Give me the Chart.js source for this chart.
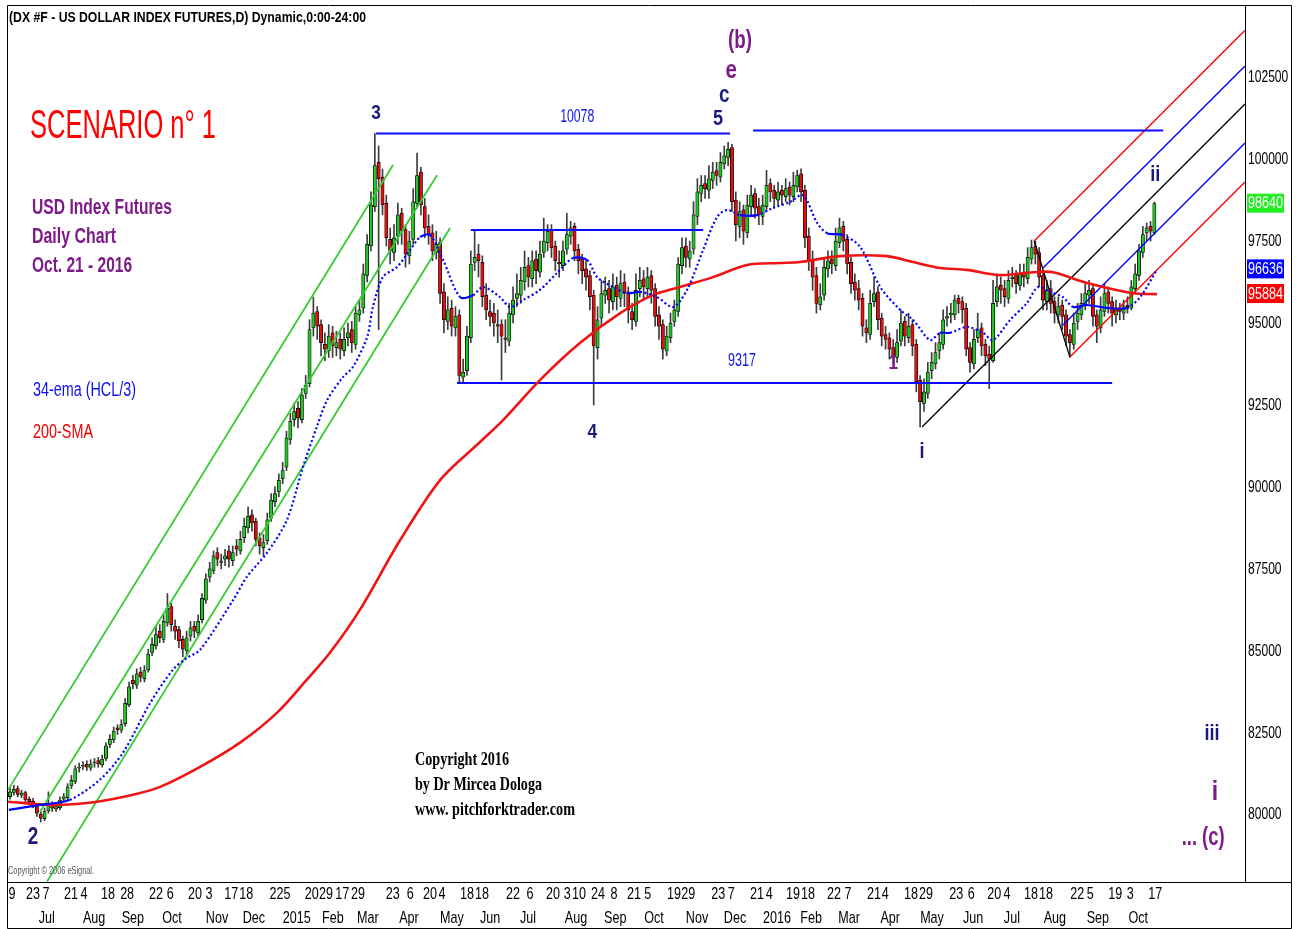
<!DOCTYPE html>
<html>
<head>
<meta charset="utf-8">
<title>DX #F - US Dollar Index Futures, daily</title>
<script src="https://cdn.jsdelivr.net/npm/chart.js@4.4.0/dist/chart.umd.min.js"></script>
<style>
  html, body { margin: 0; padding: 0; background: #fff; }
  #wrap { width: 1300px; height: 929px; }
</style>
</head>
<body>
<div id="wrap"><canvas id="chart_dxDaily" width="1300" height="929"></canvas></div>
<script>
// one candle = two sessions, index k = candle number (k 0 = mid Jun 2014, k 298 = 21 Oct 2016)
var opens = [
  80.55, 80.68, 80.80, 80.60, 80.68, 80.48, 80.42, 80.28, 80.02, 79.88,
  80.12, 80.32, 80.18, 80.22, 80.48, 80.52, 80.88, 81.02, 81.42, 81.48,
  81.55, 81.42, 81.58, 81.65, 81.52, 81.72, 82.15, 82.28, 82.65, 82.58,
  82.78, 83.35, 84.10, 83.95, 84.35, 84.15, 84.42, 84.95, 85.15, 85.60,
  85.35, 85.85, 86.35, 85.75, 85.65, 85.35, 85.00, 85.45, 85.75, 85.55,
  85.95, 86.55, 87.25, 87.45, 88.00, 87.70, 87.80, 88.05, 87.75, 88.20,
  88.05, 88.45, 88.75, 89.15, 88.95, 88.45, 88.15, 88.35, 89.05, 89.55,
  89.85, 90.25, 90.60, 91.45, 92.05, 92.40, 92.05, 92.85, 93.15, 94.85,
  95.35, 94.95, 94.35, 94.15, 94.70, 94.25, 94.50, 94.15, 94.55, 94.80,
  94.35, 95.25, 95.45, 96.45, 97.35, 98.55, 99.90, 99.45, 98.65, 97.55,
  97.15, 97.65, 98.35, 97.85, 97.05, 97.55, 98.65, 99.60, 98.55, 97.95,
  97.75, 97.15, 97.45, 95.95, 95.05, 95.45, 94.85, 95.25, 93.35, 93.55,
  94.55, 96.85, 97.10, 96.85, 95.85, 95.35, 95.30, 94.95, 94.95, 94.55,
  94.45, 95.25, 95.75, 95.85, 96.25, 96.75, 96.35, 96.95, 96.55, 97.15,
  97.45, 97.85, 97.35, 96.85, 96.75, 97.25, 97.65, 97.95, 97.25, 96.95,
  96.65, 96.45, 95.85, 94.25, 95.15, 95.85, 96.05, 95.65, 96.15, 95.75,
  96.25, 95.95, 95.35, 95.05, 96.05, 96.35, 96.05, 96.45, 96.05, 95.25,
  94.95, 94.15, 94.55, 95.05, 95.35, 96.75, 97.35, 96.95, 97.25, 98.25,
  98.95, 99.25, 99.05, 99.35, 99.65, 99.45, 99.85, 100.05, 100.35, 98.75,
  97.95, 98.45, 97.75, 98.55, 98.95, 98.55, 98.25, 98.55, 99.25, 99.05,
  98.75, 99.05, 98.85, 99.15, 98.85, 99.15, 99.55, 99.05, 97.65, 96.95,
  96.45, 95.55, 95.85, 96.65, 96.95, 96.75, 97.45, 97.95, 97.55, 96.85,
  96.25, 96.05, 95.75, 94.85, 94.65, 95.65, 95.95, 95.15, 94.65, 94.55,
  94.25, 93.95, 94.45, 95.05, 94.55, 94.95, 94.35, 93.25, 92.55, 92.85,
  93.55, 93.75, 94.15, 94.35, 95.15, 95.25, 95.25, 95.75, 95.65, 95.45,
  94.25, 93.75, 94.55, 94.85, 94.35, 94.05, 93.85, 95.65, 96.15, 96.05,
  95.75, 96.35, 96.45, 96.15, 96.55, 96.35, 96.95, 97.35, 97.15, 96.45,
  95.65, 96.05, 95.65, 95.25, 95.55, 95.25, 94.65, 94.35, 95.05, 95.25,
  95.55, 95.85, 96.05, 95.25, 94.85, 95.35, 95.95, 95.65, 95.25, 95.45,
  95.30, 95.55, 95.45, 96.05, 96.45, 97.15, 97.75, 97.95, 97.75
];
var highs = [
  80.82, 80.90, 80.88, 80.75, 80.72, 80.55, 80.50, 80.35, 80.10, 80.20,
  80.70, 80.40, 80.35, 80.55, 80.65, 80.95, 81.20, 81.50, 81.58, 81.62,
  81.65, 81.68, 81.72, 81.75, 81.82, 82.20, 82.45, 82.68, 82.75, 82.90,
  83.55, 84.05, 84.25, 84.45, 84.50, 84.55, 85.05, 85.40, 85.75, 85.80,
  86.10, 86.75, 86.45, 85.95, 85.75, 85.45, 85.60, 85.90, 85.90, 86.10,
  86.75, 87.35, 87.70, 88.05, 88.15, 87.95, 88.10, 88.20, 88.20, 88.40,
  88.65, 89.05, 89.39, 89.30, 89.05, 88.60, 88.55, 89.20, 89.80, 90.00,
  90.40, 90.75, 91.70, 92.25, 92.55, 92.60, 93.00, 93.40, 95.10, 95.79,
  95.50, 95.10, 94.70, 94.95, 94.90, 94.75, 94.70, 94.85, 95.00, 95.05,
  95.50, 95.70, 96.80, 97.70, 99.00, 100.78, 100.40, 99.70, 98.90, 97.90,
  98.00, 98.66, 98.50, 98.00, 97.80, 99.10, 100.18, 99.75, 98.80, 98.30,
  98.00, 97.80, 97.60, 96.20, 95.80, 95.70, 95.50, 95.40, 93.90, 94.90,
  97.20, 97.84, 97.40, 97.05, 96.20, 95.70, 95.60, 95.40, 95.10, 95.10,
  95.60, 96.10, 96.50, 96.70, 97.20, 97.00, 97.20, 97.20, 97.50, 98.20,
  98.00, 98.00, 97.50, 97.20, 97.50, 98.35, 98.10, 98.05, 97.40, 97.10,
  96.90, 96.60, 96.00, 95.50, 96.30, 96.40, 96.30, 96.50, 96.40, 96.60,
  96.50, 96.10, 95.60, 96.50, 96.70, 96.60, 96.70, 96.60, 96.20, 95.50,
  95.10, 94.90, 95.30, 95.70, 97.00, 97.60, 97.60, 97.50, 98.70, 99.40,
  99.50, 99.50, 99.80, 99.90, 99.90, 100.20, 100.40, 100.51, 100.45, 99.00,
  98.70, 98.60, 98.90, 99.20, 99.10, 98.80, 98.90, 99.66, 99.40, 99.20,
  99.30, 99.20, 99.40, 99.30, 99.60, 99.66, 99.70, 99.20, 97.90, 97.20,
  96.70, 96.20, 97.00, 97.20, 97.20, 97.90, 98.20, 98.10, 97.70, 97.00,
  96.50, 96.30, 95.90, 95.10, 96.00, 96.40, 96.10, 95.30, 94.90, 94.70,
  94.50, 94.80, 95.40, 95.20, 95.30, 95.10, 94.50, 93.40, 93.30, 93.80,
  94.10, 94.40, 94.70, 95.40, 95.50, 95.60, 95.85, 95.85, 95.80, 95.60,
  94.40, 94.80, 95.30, 95.00, 94.50, 94.30, 96.30, 96.50, 96.40, 96.30,
  96.60, 96.70, 96.60, 96.80, 96.80, 97.30, 97.53, 97.50, 97.30, 96.60,
  96.30, 96.30, 95.80, 95.80, 95.70, 95.40, 94.80, 95.30, 95.60, 95.90,
  96.20, 96.30, 96.20, 95.40, 95.80, 96.20, 96.10, 95.80, 95.70, 95.60,
  95.70, 95.80, 96.30, 96.80, 97.40, 97.95, 98.05, 98.10, 98.69
];
var lows = [
  80.48, 80.60, 80.55, 80.52, 80.38, 80.32, 80.22, 79.95, 79.78, 79.82,
  80.05, 80.10, 80.10, 80.15, 80.40, 80.45, 80.80, 80.95, 81.30, 81.38,
  81.35, 81.35, 81.45, 81.45, 81.45, 81.65, 82.05, 82.20, 82.45, 82.50,
  82.70, 83.30, 83.85, 83.85, 84.05, 84.05, 84.35, 84.85, 85.05, 85.25,
  85.25, 85.75, 85.60, 85.35, 85.10, 84.82, 84.90, 85.30, 85.40, 85.45,
  85.85, 86.45, 87.10, 87.35, 87.60, 87.50, 87.60, 87.55, 87.60, 87.90,
  87.95, 88.30, 88.60, 88.65, 88.20, 87.95, 87.90, 88.25, 88.95, 89.40,
  89.70, 90.10, 90.50, 91.30, 91.85, 91.80, 91.95, 92.70, 93.05, 94.60,
  94.50, 94.00, 93.85, 93.95, 93.95, 94.00, 93.90, 94.00, 94.30, 94.10,
  94.20, 95.05, 95.30, 96.25, 97.20, 98.40, 94.80, 98.30, 97.35, 96.80,
  96.90, 97.40, 97.40, 96.70, 96.80, 97.40, 98.50, 98.30, 97.60, 97.40,
  96.90, 96.95, 95.60, 94.70, 94.80, 94.60, 94.60, 93.17, 93.20, 93.40,
  94.40, 96.60, 96.40, 95.50, 95.10, 94.90, 94.60, 94.40, 93.26, 94.10,
  94.30, 95.00, 95.50, 95.60, 96.00, 96.10, 96.10, 96.20, 96.40, 97.00,
  97.20, 97.00, 96.60, 96.40, 96.60, 97.10, 97.40, 96.90, 96.50, 96.20,
  96.00, 95.40, 92.50, 93.90, 94.90, 95.60, 95.30, 95.40, 95.40, 95.50,
  95.50, 95.00, 94.80, 94.90, 95.80, 95.70, 95.80, 95.60, 94.90, 94.50,
  93.90, 94.00, 94.40, 94.90, 95.20, 96.50, 96.70, 96.70, 97.10, 98.00,
  98.70, 98.80, 98.80, 99.10, 99.20, 99.30, 99.70, 99.80, 98.40, 97.50,
  97.60, 97.40, 97.60, 98.30, 98.20, 98.00, 98.00, 98.40, 98.70, 98.50,
  98.60, 98.60, 98.70, 98.60, 98.70, 99.00, 98.70, 97.30, 96.60, 96.00,
  95.30, 95.40, 95.70, 96.40, 96.50, 96.60, 97.30, 97.20, 96.50, 95.90,
  95.70, 95.40, 94.60, 94.40, 94.50, 95.50, 94.80, 94.30, 94.20, 93.90,
  93.70, 93.80, 94.30, 94.30, 94.40, 94.00, 92.90, 91.83, 92.30, 92.70,
  93.30, 93.60, 93.90, 94.20, 94.90, 95.00, 95.10, 95.30, 95.00, 94.00,
  93.50, 93.60, 94.40, 94.00, 93.70, 93.00, 93.80, 95.50, 95.60, 95.50,
  95.60, 96.10, 95.90, 96.00, 96.10, 96.20, 96.80, 96.80, 96.10, 95.40,
  95.40, 95.30, 95.00, 95.00, 94.80, 94.30, 93.96, 94.20, 94.80, 95.10,
  95.40, 95.60, 94.90, 94.40, 94.70, 95.20, 95.30, 94.90, 95.00, 95.10,
  95.10, 95.30, 95.40, 95.90, 96.30, 97.00, 97.50, 97.50, 97.70
];
var closes = [
  80.70, 80.78, 80.62, 80.66, 80.45, 80.40, 80.30, 80.05, 79.90, 80.10,
  80.30, 80.20, 80.25, 80.45, 80.55, 80.85, 81.05, 81.40, 81.45, 81.50,
  81.45, 81.55, 81.60, 81.55, 81.70, 82.10, 82.30, 82.55, 82.60, 82.75,
  83.40, 83.90, 84.00, 84.30, 84.20, 84.40, 84.90, 85.20, 85.50, 85.40,
  85.90, 86.30, 85.80, 85.60, 85.30, 85.05, 85.40, 85.70, 85.60, 85.90,
  86.60, 87.20, 87.50, 87.90, 87.80, 87.75, 87.90, 87.80, 88.00, 88.10,
  88.40, 88.80, 89.10, 88.90, 88.40, 88.20, 88.30, 89.00, 89.60, 89.80,
  90.20, 90.50, 91.50, 92.00, 92.30, 92.10, 92.80, 93.10, 94.80, 95.30,
  94.90, 94.40, 94.20, 94.60, 94.30, 94.40, 94.20, 94.50, 94.70, 94.40,
  95.30, 95.40, 96.50, 97.40, 98.60, 99.80, 99.40, 98.60, 97.60, 97.20,
  97.60, 98.30, 97.80, 97.10, 97.50, 98.70, 99.50, 98.60, 97.90, 97.70,
  97.20, 97.40, 95.90, 95.10, 95.40, 94.90, 95.20, 93.40, 93.50, 94.60,
  96.80, 97.00, 96.90, 95.80, 95.40, 95.20, 95.00, 94.90, 94.60, 94.50,
  95.30, 95.70, 95.90, 96.30, 96.70, 96.40, 96.90, 96.60, 97.10, 97.50,
  97.80, 97.30, 96.90, 96.80, 97.20, 97.70, 97.90, 97.20, 96.90, 96.60,
  96.40, 95.80, 94.30, 95.10, 95.90, 96.00, 95.70, 96.10, 95.80, 96.20,
  95.90, 95.40, 95.10, 96.00, 96.30, 96.10, 96.40, 96.00, 95.20, 94.90,
  94.20, 94.60, 95.00, 95.40, 96.80, 97.30, 97.00, 97.20, 98.30, 99.00,
  99.20, 99.10, 99.40, 99.60, 99.50, 99.90, 100.10, 100.30, 98.70, 98.00,
  98.40, 97.80, 98.60, 98.90, 98.50, 98.30, 98.60, 99.20, 99.00, 98.80,
  99.00, 98.90, 99.10, 98.90, 99.20, 99.50, 99.00, 97.60, 96.90, 96.40,
  95.60, 95.80, 96.70, 96.90, 96.80, 97.50, 97.90, 97.50, 96.80, 96.20,
  96.00, 95.70, 94.90, 94.70, 95.60, 95.90, 95.10, 94.60, 94.50, 94.20,
  94.00, 94.40, 95.00, 94.60, 94.90, 94.30, 93.20, 92.60, 92.90, 93.50,
  93.80, 94.10, 94.40, 95.10, 95.20, 95.30, 95.70, 95.60, 95.40, 94.20,
  93.80, 94.50, 94.80, 94.30, 94.00, 93.90, 95.60, 96.10, 96.00, 95.80,
  96.30, 96.40, 96.20, 96.50, 96.40, 97.00, 97.30, 97.10, 96.40, 95.70,
  96.00, 95.60, 95.30, 95.50, 95.20, 94.60, 94.40, 95.00, 95.30, 95.60,
  95.90, 96.00, 95.20, 94.90, 95.40, 95.90, 95.60, 95.30, 95.40, 95.35,
  95.50, 95.50, 96.10, 96.50, 97.20, 97.70, 97.90, 97.80, 98.64
];

// 34-ema (HCL/3)
var emaK = [-0.3, 7.8, 15.6, 23.4, 29.4, 36.5, 42.4, 46.1, 49.5, 58.1, 61.7, 66.9, 72.1, 76.3, 79.9, 82.6, 86.7, 89.3, 93, 94.5,
  97.1, 100.8, 104.2, 106.8, 109.4, 112.8, 117.2, 120.6, 123.2, 127.6, 130.2, 133.6, 138, 142.4, 146.6, 150.3, 152.9, 157, 160.7, 164.1,
  168.5, 172.7, 176.3, 180.5, 184.1, 186.7, 190.1, 194.5, 198.7, 203.1, 206.5, 210.2, 212.8, 216.9, 221.4, 226.6, 231.8, 235.2, 239.6, 242.2,
  244.8, 249.2, 253.4, 256, 260.4, 264.8, 267.7, 270.8, 274.2, 276.8, 280.5, 285.7, 290.9, 294.3, 298.7];
var emaV = [80.15, 80.30, 80.46, 81.07, 81.89, 83.41, 84.42, 84.79, 85.03, 86.55, 87.26, 87.99, 88.99, 90.61, 91.83, 92.65, 93.35, 93.66, 94.57, 95.49,
  96.40, 96.71, 97.23, 97.62, 97.68, 96.92, 95.79, 95.85, 96.10, 95.79, 95.49, 95.70, 96.01, 96.52, 96.98, 96.92, 96.40, 96.10, 95.91, 95.95,
  95.79, 95.49, 96.01, 97.23, 98.23, 98.45, 98.29, 98.29, 98.51, 98.69, 98.90, 98.05, 97.74, 97.68, 97.32, 96.10, 95.40, 95.09, 94.48, 94.70,
  94.70, 94.88, 94.70, 94.48, 95.09, 95.61, 96.10, 95.95, 95.79, 95.49, 95.55, 95.46, 95.46, 95.79, 96.64];

// 200-SMA
var smaK = [-0.5, 11.2, 22.7, 32, 39.1, 49.5, 59.9, 69.5, 77.3, 83.3, 91.1, 101.6, 112, 122.4, 128.4, 138, 148.4, 158.9, 167.4, 174.5,
  183.1, 191.9, 200.5, 205.7, 216.1, 228.4, 235.2, 242.2, 249.2, 257.8, 266.4, 271.6, 280.5, 292.4, 298.7];
var smaV = [80.40, 80.30, 80.40, 80.61, 80.85, 81.46, 82.20, 83.11, 84.12, 84.94, 86.25, 88.38, 90.21, 91.37, 92.04, 93.26, 94.39, 95.30, 95.85, 96.10,
  96.40, 96.77, 96.83, 96.86, 97.04, 97.04, 96.86, 96.68, 96.62, 96.46, 96.55, 96.55, 96.22, 95.91, 95.88];

// drawn studies: [k, price] end points
var greenChannel = [[[-0.52, 80.76], [99.74, 99.82]], [[7.81, 80.09], [111.2, 99.51]], [[9.64, 77.96], [114.6, 97.90]]];
var levelLines = [[[95.3, 100.78], [187.5, 100.78]], [[193.5, 100.87], [300.3, 100.87]], [[116.4, 93.17], [287, 93.17]], [[120, 97.84], [180.5, 97.84]]];
var forkBlack = [[[237.5, 91.83], [321.6, 101.68]], [[266.7, 97.50], [276.0, 93.96]]];
var forkRed = [[[266.7, 97.50], [321.6, 103.93]], [[276.0, 93.96], [321.6, 99.30]]];
var forkBlue = [[[269.0, 96.68], [321.6, 102.84]], [[274.2, 94.94], [321.6, 100.49]]];

var yTicks = [80, 82.5, 85, 87.5, 90, 92.5, 95, 97.5, 100, 102.5];
var dayTickK = [0.5, 6, 9.4, 15.9, 19.3, 25.5, 30.5, 38, 41.7, 48.2, 51.8, 57.6, 61.5, 70.3, 78.6, 82.3, 86.5, 90.6, 99.7, 104.2,
  109.4, 112.5, 119, 122.9, 131, 135.4, 141.4, 145.1, 148.2, 153.1, 157.3, 162.5, 166.1, 172.9, 176.6, 184.4, 187.8, 194.5, 197.7, 203.9,
  207.8, 214.6, 218.2, 225, 227.9, 234.6, 238.5, 246.4, 250.3, 256.3, 259.6, 265.9, 269.8, 277.9, 281.3, 287.8, 291.7, 298.2];
var dayTickLabels = ['9', '23', '7', '21', '4', '18', '28', '22', '6', '20', '3', '17', '18', '225', '20', '29', '17', '29', '23', '6',
  '20', '4', '18', '18', '22', '6', '20', '3', '10', '24', '8', '21', '5', '19', '29', '23', '7', '21', '4', '19',
  '18', '22', '7', '21', '4', '18', '29', '23', '6', '20', '4', '18', '18', '22', '5', '19', '3', '17'];
var monthTickK = [9.6, 21.9, 32, 42.2, 53.9, 63.5, 74.7, 84.1, 93.2, 103.9, 115.1, 125, 134.9, 147.4, 157.6, 167.7, 178.9, 188.8, 199.7, 208.6,
  218.5, 229.2, 240.1, 250.8, 260.9, 272.1, 283.3, 293.8];
var monthTickLabels = ['Jul', 'Aug', 'Sep', 'Oct', 'Nov', 'Dec', '2015', 'Feb', 'Mar', 'Apr', 'May', 'Jun', 'Jul', 'Aug', 'Sep', 'Oct', 'Nov', 'Dec', '2016', 'Feb',
  'Mar', 'Apr', 'May', 'Jun', 'Jul', 'Aug', 'Sep', 'Oct'];

var lastTags = [98.640, 96.636, 95.884];

// Arial-like face squeezed horizontally to look like the narrow face of the original
var SANS = "'Liberation Sans', Arial, sans-serif";
var SERIF = "'Liberation Serif', 'Times New Roman', serif";
var NAVY = '#1b1b7d', PURPLE = '#7d1b88';

var waveLabels = [
  {t: '3', k: 95.3, v: 101.40, c: NAVY, f: 'bold 21px '},
  {t: '10078', k: 147.7, v: 101.28, c: '#1010ee', f: '19px ', w: 34},
  {t: '5', k: 184.4, v: 101.22, c: NAVY, f: 'bold 22px '},
  {t: 'c', k: 186, v: 101.95, c: NAVY, f: 'bold 23px '},
  {t: 'e', k: 187.8, v: 102.68, c: PURPLE, f: 'bold 25px '},
  {t: '(b)', k: 190.1, v: 103.60, c: PURPLE, f: 'bold 26px ', w: 24},
  {t: '4', k: 151.6, v: 91.68, c: NAVY, f: 'bold 21px '},
  {t: '9317', k: 190.6, v: 93.84, c: '#1010ee', f: '19px ', w: 28},
  {t: '1', k: 230, v: 93.78, c: PURPLE, f: 'bold 21px '},
  {t: 'i', k: 237.5, v: 91.07, c: NAVY, f: 'bold 22px '},
  {t: 'ii', k: 298.2, v: 99.51, c: NAVY, f: 'bold 22px '},
  {t: 'iii', k: 313, v: 82.47, c: NAVY, f: 'bold 22px '},
  {t: 'i', k: 313.8, v: 80.70, c: PURPLE, f: 'bold 28px '},
  {t: '... (c)', k: 310.7, v: 79.30, c: PURPLE, f: 'bold 26px ', w: 43},
  {t: '2', k: 6, v: 79.30, c: NAVY, f: 'bold 23px '}
];

function drawText(ctx, s, x, y, font, color, width, align, squeeze) {
  ctx.save();
  ctx.font = font;
  ctx.fillStyle = color;
  ctx.textBaseline = 'middle';
  ctx.textAlign = align || 'left';
  var sx = width ? width / ctx.measureText(s).width : (squeeze || 0.82);
  ctx.translate(x, y);
  ctx.scale(sx, 1);
  ctx.fillText(s, 0, 0);
  ctx.restore();
}

function segSet(list, color, width, order) {
  return list.map(function (s) {
    return {
      type: 'line',
      data: s.map(function (p) { return {x: p[0], y: p[1]}; }),
      borderColor: color, borderWidth: width,
      pointRadius: 0, tension: 0, order: order
    };
  });
}

var wickData = closes.map(function (c, k) { return {x: k, y: [lows[k], highs[k]]}; });
var bodyData = closes.map(function (c, k) { return {x: k, y: [Math.min(opens[k], c), Math.max(opens[k], c)]}; });
var bodyColors = closes.map(function (c, k) { return c >= opens[k] ? '#22c522' : '#e01010'; });

var datasets = [
  {
    type: 'line', label: '34-ema',
    data: emaK.map(function (k, i) { return {x: k, y: emaV[i]}; }),
    borderColor: '#0000ff', borderWidth: 2.2, pointRadius: 0, tension: 0.3, order: 0,
    segment: {
      borderDash: function (ctx) {
        var dx = ctx.p1.x - ctx.p0.x, dy = Math.abs(ctx.p1.y - ctx.p0.y);
        return dy > dx * 0.3 ? [2, 2.5] : undefined;
      }
    }
  },
  {
    type: 'line', label: '200-SMA',
    data: smaK.map(function (k, i) { return {x: k, y: smaV[i]}; }),
    borderColor: '#f01414', borderWidth: 2.6, pointRadius: 0, tension: 0.3, order: 1
  }
].concat(
  segSet(greenChannel, '#33cc33', 1.8, 2),
  segSet(levelLines, '#0a0aff', 2, 2),
  segSet(forkBlack, '#000000', 1.3, 2),
  segSet(forkRed, '#ff0000', 1.4, 2),
  segSet(forkBlue, '#0000ff', 1.4, 2),
  [
    {type: 'bar', label: 'body', data: bodyData, backgroundColor: bodyColors, borderColor: '#000', borderWidth: 0.75,
      borderSkipped: false, barThickness: 3.3, minBarLength: 1, grouped: false, order: 5},
    {type: 'bar', label: 'range', data: wickData, backgroundColor: '#3c3c3c', barThickness: 1, grouped: false, order: 6}
  ]
);

var dxDecor = {
  id: 'dxDecor',
  afterDraw: function (chart) {
    var ctx = chart.ctx, xs = chart.scales.x, xm = chart.scales.x2, ys = chart.scales.y, a = chart.chartArea;
    ctx.save();
    ctx.strokeStyle = '#000';
    ctx.lineWidth = 1;
    ctx.beginPath();
    ctx.moveTo(7.5, 5.5); ctx.lineTo(1291.5, 5.5); ctx.lineTo(1291.5, 928.5); ctx.lineTo(7.5, 928.5); ctx.closePath();
    ctx.moveTo(a.right + 0.5, 5.5); ctx.lineTo(a.right + 0.5, a.bottom + 0.5);
    ctx.moveTo(7.5, a.bottom + 0.5); ctx.lineTo(1291.5, a.bottom + 0.5);
    ctx.stroke();
    ctx.restore();

    // axis labels, placed from the scales' own ticks
    ys.ticks.forEach(function (t) {
      drawText(ctx, String(Math.round(t.value * 1000)), a.right + 3, ys.getPixelForValue(t.value), '17px ' + SANS, '#000', null, 'left', 0.71);
    });
    xs.ticks.forEach(function (t, i) {
      drawText(ctx, dayTickLabels[i], xs.getPixelForValue(t.value), a.bottom + 12, '17px ' + SANS, '#000', null, 'center', 0.74);
    });
    xm.ticks.forEach(function (t, i) {
      drawText(ctx, monthTickLabels[i], xm.getPixelForValue(t.value), a.bottom + 36, '17px ' + SANS, '#000', null, 'center', 0.74);
    });

    drawText(ctx, '(DX #F - US DOLLAR INDEX FUTURES,D) Dynamic,0:00-24:00', 9, 18, 'bold 15px ' + SANS, '#000', 357);
    drawText(ctx, 'SCENARIO n\u00b0 1', 30, 127, '40px ' + SANS, '#ff0000', 186);
    drawText(ctx, 'USD Index Futures', 32, 208, 'bold 22px ' + SANS, PURPLE, 140);
    drawText(ctx, 'Daily Chart', 32, 237, 'bold 22px ' + SANS, PURPLE, 84);
    drawText(ctx, 'Oct. 21 - 2016', 32, 266, 'bold 22px ' + SANS, PURPLE, 100);
    drawText(ctx, '34-ema (HCL/3)', 33, 390, '20px ' + SANS, '#1010ee', 103);
    drawText(ctx, '200-SMA', 33, 432, '20px ' + SANS, '#ee0000', 60);
    drawText(ctx, 'Copyright 2016', 415, 760, 'bold 19px ' + SERIF, '#000', 94);
    drawText(ctx, 'by Dr Mircea Dologa', 415, 785, 'bold 19px ' + SERIF, '#000', 127);
    drawText(ctx, 'www. pitchforktrader.com', 415, 810, 'bold 19px ' + SERIF, '#000', 160);
    drawText(ctx, 'Copyright \u00a9 2006 eSignal.', 8, 871, '11px ' + SANS, '#555', 86);

    waveLabels.forEach(function (l) {
      drawText(ctx, l.t, xs.getPixelForValue(l.k), ys.getPixelForValue(l.v), l.f + SANS, l.c, l.w, 'center');
    });

    var tagColors = ['#22ee22', '#0000ff', '#ff0000'];
    lastTags.forEach(function (v, i) {
      var y = ys.getPixelForValue(v);
      ctx.save();
      ctx.fillStyle = tagColors[i];
      ctx.fillRect(a.right + 2, y - 10, 37, 19);
      ctx.restore();
      drawText(ctx, String(Math.round(v * 1000)), a.right + 3, y, '17px ' + SANS, '#fff', 35);
    });
  }
};

var chart_dxDaily = new Chart(document.getElementById('chart_dxDaily'), {
  type: 'bar',
  data: {datasets: datasets},
  options: {
    animation: false,
    responsive: false,
    events: [],
    layout: {padding: {left: 8, top: 5, right: 9, bottom: 0}},
    plugins: {legend: {display: false}, tooltip: {enabled: false}, title: {display: false}},
    scales: {
      x: {
        type: 'linear', axis: 'x', position: 'bottom', weight: 0,
        min: -0.52, max: 321.6, offset: false,
        grid: {display: false, drawTicks: false}, border: {display: false},
        afterBuildTicks: function (s) { s.ticks = dayTickK.map(function (v) { return {value: v}; }); },
        ticks: {display: false, autoSkip: false},
        afterFit: function (s) { s.height = 23; }
      },
      x2: {
        type: 'linear', axis: 'x', position: 'bottom', weight: 1,
        min: -0.52, max: 321.6, offset: false,
        grid: {display: false, drawTicks: false}, border: {display: false},
        afterBuildTicks: function (s) { s.ticks = monthTickK.map(function (v) { return {value: v}; }); },
        ticks: {display: false, autoSkip: false},
        afterFit: function (s) { s.height = 24; }
      },
      y: {
        type: 'linear', position: 'right',
        min: 77.95, max: 104.7, beginAtZero: false,
        grid: {display: false, drawTicks: false}, border: {display: false},
        afterBuildTicks: function (s) { s.ticks = yTicks.map(function (v) { return {value: v}; }); },
        ticks: {display: false},
        afterFit: function (s) { s.width = 46; }
      }
    }
  },
  plugins: [dxDecor]
});
</script>
</body>
</html>
